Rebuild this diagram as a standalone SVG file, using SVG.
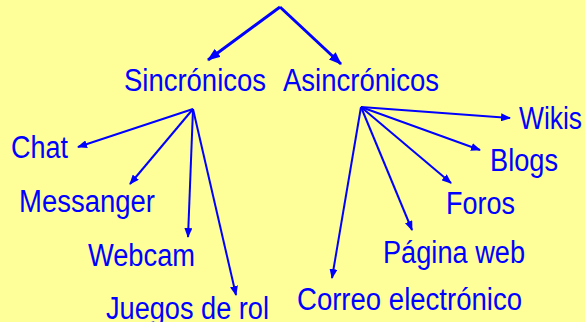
<svg xmlns="http://www.w3.org/2000/svg" width="585" height="322" viewBox="0 0 585 322">
<style>
.t{font-family:"Liberation Sans",Arial,sans-serif;font-size:31px;fill:#0000FF}
.c{stroke:#0000FF;fill:none;stroke-width:2}
.c3{stroke:#0000FF;fill:none;stroke-width:3}
</style>
<defs>
<marker id="a" markerUnits="userSpaceOnUse" markerWidth="10" markerHeight="8" refX="9" refY="4" orient="auto">
<path d="M0,0 L10,4 L0,8 z" fill="#0000FF"/>
</marker>
<marker id="b" markerUnits="userSpaceOnUse" markerWidth="13" markerHeight="10" refX="12" refY="5" orient="auto">
<path d="M0,0 L13,5 L0,10 z" fill="#0000FF"/>
</marker>
</defs>
<rect width="585" height="322" fill="#FFFF99"/>
<g id="connectors">
<line class="c3" x1="280" y1="7" x2="208" y2="60" marker-end="url(#b)"/>
<line class="c3" x1="280" y1="7" x2="341" y2="64" marker-end="url(#b)"/>
<line class="c" x1="193" y1="109" x2="78" y2="147" marker-end="url(#a)"/>
<line class="c" x1="193" y1="109" x2="130" y2="184" marker-end="url(#a)"/>
<line class="c" x1="193" y1="109" x2="188" y2="237" marker-end="url(#a)"/>
<line class="c" x1="193" y1="109" x2="236" y2="295" marker-end="url(#a)"/>
<line class="c" x1="361" y1="107" x2="510" y2="118" marker-end="url(#a)"/>
<line class="c" x1="361" y1="107" x2="480" y2="150" marker-end="url(#a)"/>
<line class="c" x1="361" y1="107" x2="451" y2="183" marker-end="url(#a)"/>
<line class="c" x1="361" y1="107" x2="412" y2="230" marker-end="url(#a)"/>
<line class="c" x1="361" y1="107" x2="332" y2="278" marker-end="url(#a)"/>
</g>
<g id="sincronicos"><text class="t" x="124" y="91" textLength="142" lengthAdjust="spacingAndGlyphs">Sincrónicos</text></g>
<g id="asincronicos"><text class="t" x="283" y="91" textLength="156" lengthAdjust="spacingAndGlyphs">Asincrónicos</text></g>
<g id="chat"><text class="t" x="11" y="158" textLength="57" lengthAdjust="spacingAndGlyphs">Chat</text></g>
<g id="messanger"><text class="t" x="19" y="212" textLength="136" lengthAdjust="spacingAndGlyphs">Messanger</text></g>
<g id="webcam"><text class="t" x="88" y="266" textLength="107" lengthAdjust="spacingAndGlyphs">Webcam</text></g>
<g id="juegos"><text class="t" x="106" y="319" textLength="163" lengthAdjust="spacingAndGlyphs">Juegos de rol</text></g>
<g id="wikis"><text class="t" x="519" y="129" textLength="63" lengthAdjust="spacingAndGlyphs">Wikis</text></g>
<g id="blogs"><text class="t" x="490" y="171" textLength="68" lengthAdjust="spacingAndGlyphs">Blogs</text></g>
<g id="foros"><text class="t" x="446" y="214" textLength="69" lengthAdjust="spacingAndGlyphs">Foros</text></g>
<g id="pagina"><text class="t" x="383" y="263" textLength="142" lengthAdjust="spacingAndGlyphs">Página web</text></g>
<g id="correo"><text class="t" x="297" y="310" textLength="225" lengthAdjust="spacingAndGlyphs">Correo electrónico</text></g>
</svg>
